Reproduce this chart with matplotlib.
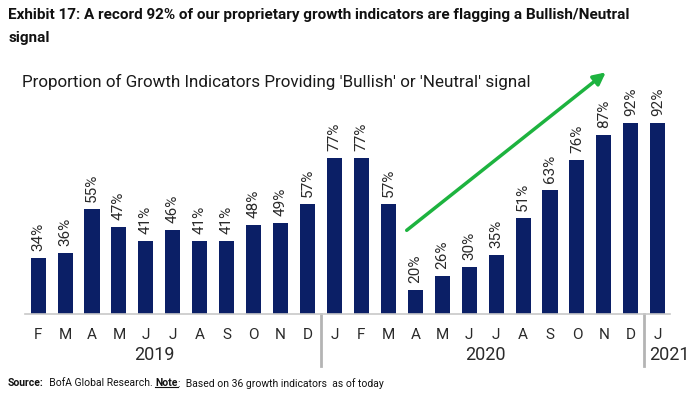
import matplotlib
matplotlib.use('Agg')
import matplotlib.pyplot as plt
from matplotlib.lines import Line2D

# data
months = ['F', 'M', 'A', 'M', 'J', 'J', 'A', 'S', 'O', 'N', 'D',
          'J', 'F', 'M', 'A', 'M', 'J', 'J', 'A', 'S', 'O', 'N', 'D',
          'J']
values = [34, 36, 55, 47, 41, 46, 41, 41, 48, 49, 57,
          77, 77, 57, 20, 26, 30, 35, 51, 63, 76, 87, 92,
          92]
years = ['2019', '2020', '2021']
year_x = [4.3, 16.6, 23.42]     # where the year labels sit
separators = [10.5, 22.5]

NAVY = '#0b1f66'
GREEN = '#1db33f'
TXT = '#2a2a2a'

plt.rcParams['font.family'] = ['Roboto', 'DejaVu Sans']

fig = plt.figure(figsize=(7, 3.96), dpi=100)
ax = fig.add_axes([0.036, 0.207, 0.921, 0.641])
renderer = fig.canvas.get_renderer()


def fit(t, width_px):
    # shrink/grow a text so its width matches the reference
    w = t.get_window_extent(renderer).width
    t.set_fontsize(t.get_fontsize() * width_px / w)


x = list(range(len(values)))
ax.bar(x, values, width=0.56, color=NAVY)
for xi, v in zip(x, values):
    ax.text(xi, v + 3, f'{v}%', rotation=90, ha='center', va='bottom',
            fontsize=11, color=TXT)

ax.set_xlim(-0.48, 23.45)
ax.set_ylim(9.7, 119)
for s in ['top', 'right', 'left']:
    ax.spines[s].set_visible(False)
ax.spines['bottom'].set_color('#c8c8c8')
ax.spines['bottom'].set_linewidth(1.2)
ax.set_yticks([])
ax.set_xticks(x)
ax.set_xticklabels(months, fontsize=11, color=TXT)
ax.tick_params(axis='x', length=0, pad=10)

# year labels and separators
for yr, xp in zip(years, year_x):
    ax.text(xp, -0.16, yr, transform=ax.get_xaxis_transform(),
            ha='center', va='center', fontsize=13, color=TXT)
for sep in separators:
    ax.plot([sep, sep], [0, -0.205], transform=ax.get_xaxis_transform(),
            color='#b4b4b4', lw=2, clip_on=False)

# trend arrow
ax.annotate('', xy=(21.15, 114.5), xytext=(13.6, 45),
            arrowprops=dict(arrowstyle='-|>', color=GREEN, lw=2.5,
                            mutation_scale=18),
            annotation_clip=False)

h1 = fig.text(0.012, 0.962, 'Exhibit 17: A record 92% of our proprietary growth indicators are flagging a Bullish/Neutral',
              fontsize=12, fontweight='bold', color='#111111', va='center')
fit(h1, 620)
fig.text(0.012, 0.905, 'signal', fontsize=h1.get_fontsize(), fontweight='bold',
         color='#111111', va='center')
t = fig.text(0.032, 0.792, "Proportion of Growth Indicators Providing 'Bullish' or 'Neutral' signal",
             fontsize=14, color='#1a1a1a', va='center')
fit(t, 512)

# source line, pieces laid out one after another
parts = [('Source:', 'bold'), ('  BofA Global Research. ', 'normal'),
         ('Note', 'bold'), (':  Based on 36 growth indicators  as of today', 'normal')]
xpx = 8
for txt, wt in parts:
    p = fig.text(xpx / 700, 0.032, txt, fontsize=7.5, fontweight=wt, color='#111111',
                 va='center')
    bb = p.get_window_extent(renderer)
    if txt == 'Note':
        fig.add_artist(Line2D([bb.x0 / 700, bb.x1 / 700], [(bb.y0 + 1.5) / 396] * 2,
                              color='#111111', lw=0.8))
    xpx = bb.x1

fig.savefig('out.png', dpi=100)
